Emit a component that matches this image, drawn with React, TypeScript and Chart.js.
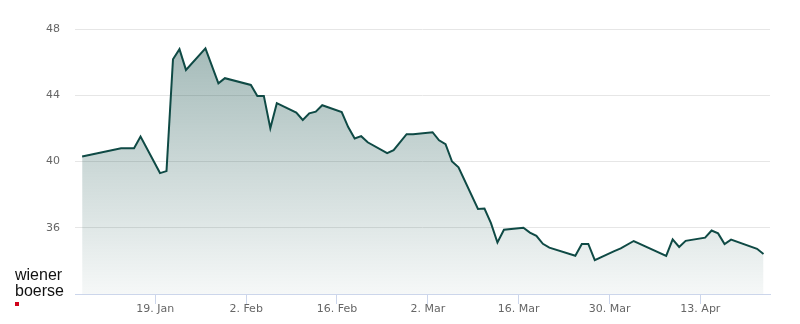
import React, { useEffect, useRef } from "react";
import { Chart, registerables } from "chart.js";

Chart.register(...registerables);

const DATES = [
  "2015-01-07", "2015-01-13", "2015-01-15", "2015-01-16", "2015-01-19", "2015-01-20", "2015-01-21", "2015-01-22",
  "2015-01-23", "2015-01-26", "2015-01-28", "2015-01-29", "2015-02-02", "2015-02-03", "2015-02-04", "2015-02-05",
  "2015-02-06", "2015-02-09", "2015-02-10", "2015-02-11", "2015-02-12", "2015-02-13", "2015-02-16", "2015-02-17",
  "2015-02-18", "2015-02-19", "2015-02-20", "2015-02-23", "2015-02-24", "2015-02-26", "2015-02-27", "2015-03-02",
  "2015-03-03", "2015-03-04", "2015-03-05", "2015-03-06", "2015-03-09", "2015-03-10", "2015-03-11", "2015-03-12",
  "2015-03-13", "2015-03-16", "2015-03-17", "2015-03-18", "2015-03-19", "2015-03-20", "2015-03-24", "2015-03-25",
  "2015-03-26", "2015-03-27", "2015-03-30", "2015-03-31", "2015-04-02", "2015-04-07", "2015-04-08", "2015-04-09",
  "2015-04-10", "2015-04-13", "2015-04-14", "2015-04-15", "2015-04-16", "2015-04-17", "2015-04-21", "2015-04-22",
];

const PRICES = [
  40.30, 40.80, 40.80, 41.51, 39.30, 39.42, 46.17, 46.78,
  45.53, 46.83, 44.72, 45.03, 44.62, 43.96, 43.96, 42.01,
  43.52, 42.95, 42.51, 42.91, 43.01, 43.40, 42.98, 42.08,
  41.39, 41.53, 41.16, 40.50, 40.68, 41.65, 41.65, 41.77,
  41.28, 41.05, 40.00, 39.65, 37.13, 37.16, 36.28, 35.11,
  35.88, 36.00, 35.71, 35.51, 35.03, 34.80, 34.31, 35.02,
  35.02, 34.05, 34.59, 34.75, 35.20, 34.30, 35.30, 34.84,
  35.21, 35.40, 35.83, 35.66, 35.02, 35.28, 34.73, 34.42,
];

const TICK_DATES = ["2015-01-19", "2015-02-02", "2015-02-16", "2015-03-02", "2015-03-16", "2015-03-30", "2015-04-13"];
const TICK_LABELS = ["19. Jan", "2. Feb", "16. Feb", "2. Mar", "16. Mar", "30. Mar", "13. Apr"];

const Y_MIN = 32;
const Y_MAX = 48;
const Y_STEP = 4;

// closing time of the trading day (17:30) as a fraction of a day
const CLOSE_FRACTION = 17.5 / 24;
const PAD_LEFT_DAYS = 1.1;
const PAD_RIGHT_DAYS = 1.0;

const EPOCH = Date.UTC(2015, 0, 1);
const toDay = (s: string) => {
  const [y, m, d] = s.split("-").map(Number);
  return (Date.UTC(y, m - 1, d) - EPOCH) / 86400000;
};

const LINE_COLOR = "#0f4a45";
const FONT = "'DejaVu Sans', sans-serif";

export default function App() {
  const canvasRef = useRef<HTMLCanvasElement | null>(null);

  useEffect(() => {
    document.body.style.margin = "0";
    const canvas = canvasRef.current;
    if (!canvas) return;

    const points = DATES.map((d, i) => ({ x: toDay(d) + CLOSE_FRACTION, y: PRICES[i] }));
    const tickDays = TICK_DATES.map(toDay);
    const xMin = points[0].x - PAD_LEFT_DAYS;
    const xMax = points[points.length - 1].x + PAD_RIGHT_DAYS;

    const chart = new Chart(canvas, {
      type: "line",
      data: {
        datasets: [
          {
            data: points,
            borderColor: LINE_COLOR,
            borderWidth: 2,
            pointRadius: 0,
            tension: 0,
            fill: "start",
            backgroundColor: (ctx: any) => {
              const area = ctx.chart.chartArea;
              if (!area) return "rgba(15,74,69,0.2)";
              const g = ctx.chart.ctx.createLinearGradient(0, area.top, 0, area.bottom);
              g.addColorStop(0, "rgba(15,74,69,0.40)");
              g.addColorStop(1, "rgba(15,74,69,0.04)");
              return g;
            },
          },
        ],
      },
      options: {
        animation: false,
        responsive: false,
        maintainAspectRatio: false,
        layout: { padding: { top: 29, right: 30, left: 0, bottom: 0 } },
        plugins: { legend: { display: false }, tooltip: { enabled: false } },
        scales: {
          x: {
            type: "linear",
            min: xMin,
            max: xMax,
            afterFit: (s: any) => {
              s.height = 30;
            },
            afterBuildTicks: (s: any) => {
              s.ticks = tickDays.map((v) => ({ value: v }));
            },
            grid: {
              drawOnChartArea: false,
              drawTicks: true,
              tickLength: 10,
              color: "#ccd6eb",
            },
            border: { display: true, color: "#ccd6eb", width: 1 },
            ticks: {
              autoSkip: false,
              maxRotation: 0,
              padding: -1,
              color: "#666666",
              font: { family: FONT, size: 11 },
              callback: (_v: any, i: number) => TICK_LABELS[i],
            },
          },
          y: {
            min: Y_MIN,
            max: Y_MAX,
            afterFit: (s: any) => {
              s.width = 75;
            },
            grid: {
              drawTicks: false,
              color: (ctx: any) => (ctx.tick && ctx.tick.value === Y_MIN ? "rgba(0,0,0,0)" : "#e6e6e6"),
            },
            border: { display: false },
            ticks: {
              stepSize: Y_STEP,
              padding: 15,
              color: "#666666",
              font: { family: FONT, size: 11 },
              callback: (v: any) => (v === Y_MIN ? "" : String(v)),
            },
          },
        },
      },
    });

    return () => chart.destroy();
  }, []);

  return (
    <div style={{ position: "relative", width: 800, height: 324 }}>
      <canvas ref={canvasRef} width={800} height={324} style={{ display: "block" }} />
      <div
        style={{
          position: "absolute",
          left: 15,
          top: 267,
          fontFamily: "'Liberation Sans', Arial, sans-serif",
          fontSize: 16,
          lineHeight: "16px",
          color: "#111111",
        }}
      >
        <div>wiener</div>
        <div>boerse</div>
      </div>
      <div
        style={{
          position: "absolute",
          left: 15,
          top: 302,
          width: 4,
          height: 4,
          background: "#d0021b",
        }}
      />
    </div>
  );
}
